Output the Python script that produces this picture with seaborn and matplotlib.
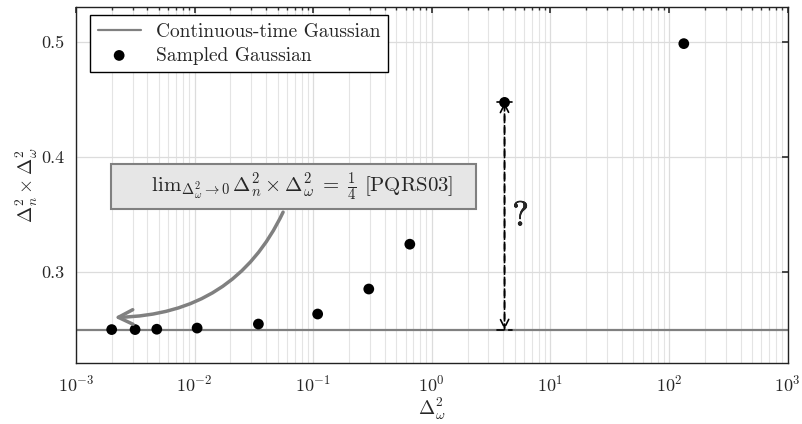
import pandas as pd
import matplotlib
matplotlib.use("Agg")
import matplotlib.pyplot as plt
import matplotlib.patheffects as pe
import seaborn as sns
import numpy as np

# Data
delta_w2 = [0.002, 0.00315, 0.0048, 0.0105, 0.0345, 0.109, 0.294, 0.652, 4.1, 133.0]
product = [0.2500, 0.2500, 0.2503, 0.2513, 0.2548, 0.2635, 0.2852, 0.3241, 0.4472, 0.4982]
limit_value = 0.25
xticks = [1e-3, 1e-2, 1e-1, 1e0, 1e1, 1e2, 1e3]
yticks = [0.3, 0.4, 0.5]

sns.set_theme(style="white")
plt.rcParams["font.family"] = ["cmr10", "DejaVu Serif"]
plt.rcParams["mathtext.fontset"] = "cm"
plt.rcParams["axes.formatter.use_mathtext"] = True
plt.rcParams["axes.unicode_minus"] = False

df = pd.DataFrame({"dw2": delta_w2, "prod": product})

fig = plt.figure(figsize=(8.03, 4.24), dpi=100)
ax = fig.add_axes([0.0946, 0.1439, 0.8864, 0.8396])

# Grid
ax.set_xscale("log")
ax.set_xlim(1e-3, 1e3)
ax.set_ylim(0.221, 0.530)
ax.grid(True, which="major", axis="both", color="#dcdcdc", linewidth=0.9, zorder=0)
ax.grid(True, which="minor", axis="x", color="#e4e4e4", linewidth=0.8, zorder=0)

# Continuous-time limit line
ax.axhline(limit_value, color="#808080", linewidth=1.6, label="Continuous-time Gaussian", zorder=2)

# Sampled points
sns.scatterplot(data=df, x="dw2", y="prod", color="black", s=60, edgecolor="none",
                label="Sampled Gaussian", ax=ax, zorder=3)

# Dashed double-arrow with question mark
ax.annotate("", xy=(delta_w2[8], limit_value), xytext=(delta_w2[8], product[8]),
            arrowprops=dict(arrowstyle="|-|,widthA=0.45,widthB=0.45", linestyle=(0, (4, 3)),
                            color="black", lw=1.2, shrinkA=0, shrinkB=0), zorder=4)
ax.annotate("", xy=(delta_w2[8], limit_value), xytext=(delta_w2[8], product[8]),
            arrowprops=dict(arrowstyle="<->,head_length=0.5,head_width=0.25", linestyle=(0, (4, 3)),
                            color="black", lw=1.2, shrinkA=0, shrinkB=0), zorder=4)
ax.text(5.6, 0.348, "?", fontsize=25, ha="center", va="center",
        path_effects=[pe.withStroke(linewidth=0.5, foreground="black")])

# Limit annotation box with curved arrow
ax.annotate("     " + r"$\mathrm{lim}_{\Delta_\omega^2\to 0}\,\Delta_n^2 \times \Delta_\omega^2 \;=\; \frac{1}{4}$ [PQRS03]" + "   ",
            xy=(0.002, 0.2605), xytext=(0.0683, 0.3743), fontsize=15,
            ha="center", va="center",
            bbox=dict(boxstyle="square,pad=0.3", fc="#e6e6e6", ec="#808080", lw=1.5),
            arrowprops=dict(arrowstyle="->,head_length=0.7,head_width=0.35", color="#808080",
                            lw=2.5, connectionstyle="arc3,rad=-0.35"),
            zorder=5)

ax.set_xticks(xticks)
ax.set_yticks(yticks)
ax.set_yticklabels(["0.3", "0.4", "0.5"])
ax.tick_params(axis="both", which="both", direction="in", top=True, right=True,
               labelsize=13, color="#333333")
ax.tick_params(axis="both", which="major", length=4, pad=8)
ax.tick_params(axis="x", which="minor", length=2.5)
for sp in ax.spines.values():
    sp.set_color("#222222")
    sp.set_linewidth(1.0)

ax.set_xlabel(r"$\Delta_\omega^2$", fontsize=14, labelpad=1)
ax.set_ylabel(r"$\Delta_n^2 \times \Delta_\omega^2$", fontsize=14, labelpad=1)

leg = ax.legend(loc="upper left", bbox_to_anchor=(0.0197, 0.9775), borderaxespad=0,
                fontsize=14, frameon=True, fancybox=False, edgecolor="black", framealpha=1,
                borderpad=0.4, handlelength=2.2, labelspacing=0.3)
leg.get_frame().set_linewidth(1.0)

fig.savefig("out.png", dpi=100)
